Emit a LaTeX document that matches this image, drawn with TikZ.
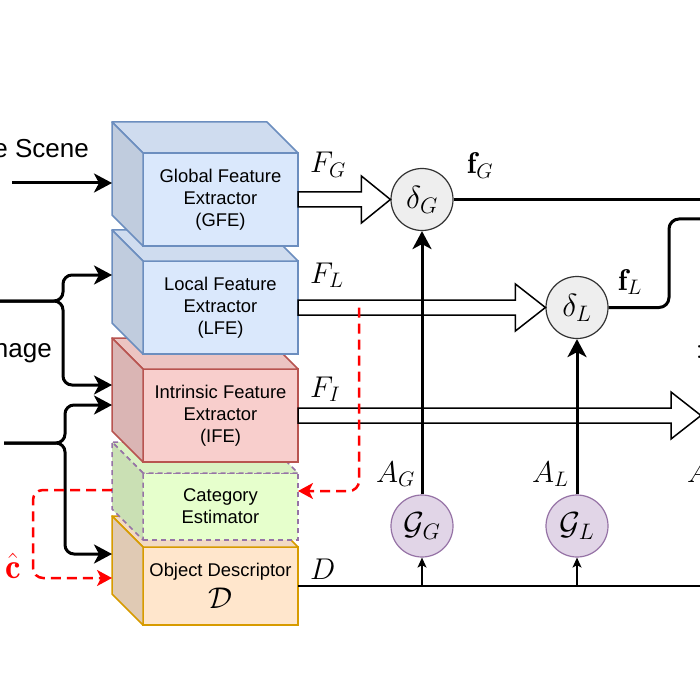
\RequirePackage{fix-cm}
\documentclass[tikz,border=0pt]{standalone}
\usepackage{fontspec}
\newfontfamily\lsans{Liberation Sans}
\usetikzlibrary{arrows.meta,calc}
\definecolor{gfill}{HTML}{DAE8FC}\definecolor{gline}{HTML}{6C8EBF}
\definecolor{rfill}{HTML}{F8CECC}\definecolor{rline}{HTML}{B85450}
\definecolor{cfill}{HTML}{E6FFCC}\definecolor{pline}{HTML}{9673A6}
\definecolor{ofill}{HTML}{FFE6CC}\definecolor{oline}{HTML}{D79B00}
\definecolor{pfill}{HTML}{E1D5E7}
\definecolor{dfill}{HTML}{EEEEEE}\definecolor{dline}{HTML}{333333}
\newcommand{\cubebox}[8]{%
  \node[front, fill=#5, draw=#6, minimum height=#4pt, #7] (#1) at (#2,#3) {#8};
  \path[fill=#5!95!black, draw=#6, line width=1.5pt, line join=round, #7]
    (#1.north west) -- ++(-31,-31) -- ($(#1.north east)+(-31,-31)$) -- (#1.north east) -- cycle;
  \path[fill=#5!88!black, draw=#6, line width=1.5pt, line join=round, #7]
    (#1.north west) -- ++(-31,-31) -- ($(#1.south west)+(-31,-31)$) -- (#1.south west) -- cycle;
}
\begin{document}
\begin{tikzpicture}[x=1pt,y=-1pt,
  sans/.style={font=\lsans\fontsize{18.4}{22}\selectfont},
  front/.style={draw, line width=1.5pt, inner sep=0pt, outer sep=0pt, minimum width=155pt, align=center, sans, anchor=north west},
  mlab/.style={font=\fontsize{30}{34}\selectfont, inner sep=0pt, anchor=base west},
  bigsans/.style={font=\lsans\fontsize{26}{30}\selectfont, inner sep=0pt, anchor=base east},
  fuse/.style={circle, draw=dline, fill=dfill, line width=1.2pt, minimum size=62pt, inner sep=0pt, font=\fontsize{32}{36}\selectfont},
  gen/.style={circle, draw=pline, fill=pfill, line width=1.2pt, minimum size=62pt, inner sep=0pt, font=\fontsize{32}{36}\selectfont},
  thickarr/.style={line width=3pt, -{Stealth[length=18pt,width=19pt,inset=5pt]}},
  thickline/.style={line width=3pt},
  redarr/.style={draw=red, line width=2.5pt, dash pattern=on 10pt off 6pt, rounded corners=10pt, -{Stealth[length=15pt,width=16pt,inset=4pt]}},
  hollowarr/.style={draw, fill=white, line width=1.5pt, line join=miter},
  thinarr/.style={line width=1.5pt, -{Stealth[length=10pt,width=9pt,inset=2.5pt]}},
  cedash/.style={dash pattern=on 5pt off 4pt}
]
\useasboundingbox (0,0) rectangle (700,700);
\fill[white] (0,0) rectangle (700,700);
\clip (0,0) rectangle (700,700);

% cubes, drawn bottom-up
\cubebox{od}{143}{547}{78}{ofill}{oline}{}{Object Descriptor\\[7pt]{\fontsize{30}{30}\selectfont$\mathcal{D}$}}
\cubebox{ce}{143}{473}{67}{cfill}{pline}{cedash}{Category\\Estimator}
\cubebox{ife}{143}{369}{93}{rfill}{rline}{}{Intrinsic Feature\\Extractor\\(IFE)}
\cubebox{lfe}{143}{261}{93}{gfill}{gline}{}{Local Feature\\Extractor\\(LFE)}
\cubebox{gfe}{143}{153}{93}{gfill}{gline}{}{Global Feature\\Extractor\\(GFE)}

% circles
\node[fuse] (dG) at (422,199.5) {$\delta_G$};
\node[fuse] (dL) at (577,307.5) {$\delta_L$};
\node[gen] (gG) at (422,526) {$\mathcal{G}_G$};
\node[gen] (gL) at (577,526) {$\mathcal{G}_L$};

% free ends
\coordinate (iTip) at (701,415.5);
\coordinate (fGend) at (702,199.5);
\coordinate (fLturn) at (669,307.5);
\coordinate (fLend) at (702,219);
\coordinate (dEnd) at (702,586);

% hollow arrows
\draw[hollowarr] ($(gfe.east)+(0,-7.5)$) -- ($(dG.west)+(-29,-7.5)$) -- ($(dG.west)+(-29,-23.5)$) -- (dG.west)
  -- ($(dG.west)+(-29,23.5)$) -- ($(dG.west)+(-29,7.5)$) -- ($(gfe.east)+(0,7.5)$) -- cycle;
\draw[hollowarr] ($(lfe.east)+(0,-7.5)$) -- ($(dL.west)+(-30,-7.5)$) -- ($(dL.west)+(-30,-23.5)$) -- (dL.west)
  -- ($(dL.west)+(-30,23.5)$) -- ($(dL.west)+(-30,7.5)$) -- ($(lfe.east)+(0,7.5)$) -- cycle;
\draw[hollowarr] ($(ife.east)+(0,-7.5)$) -- ($(iTip)+(-30,-7.5)$) -- ($(iTip)+(-30,-23.5)$) -- (iTip)
  -- ($(iTip)+(-30,23.5)$) -- ($(iTip)+(-30,7.5)$) -- ($(ife.east)+(0,7.5)$) -- cycle;

% outputs of fusion
\draw[thickline] (dG.east) -- (fGend);
\draw[thickline, rounded corners=10pt] (dL.east) -- (fLturn) |- (fLend);

% attention arrows
\draw[thickarr] (gG) -- (dG);
\draw[thickarr] (gL) -- (dL);

% descriptor line
\draw[line width=1.5pt] (od.east) -- (dEnd);
\coordinate (bG) at (gG.south |- od.east);
\coordinate (bL) at (gL.south |- od.east);
\draw[thinarr] (bG) -- (gG.south);
\draw[thinarr] (bL) -- (gL.south);

% inputs
\coordinate (inS) at (12,183);
\coordinate (gfeIn) at (112,183);
\draw[thickarr] (inS) -- (gfeIn);
\coordinate (inI) at (-3,301);
\coordinate (lfeIn) at (112,275);
\coordinate (ifeInA) at (112,385);
\draw[thickarr, rounded corners=9pt] (inI) -| (63,275) -- (lfeIn);
\draw[thickarr, rounded corners=9pt] (inI) -| (63,385) -- (ifeInA);
\coordinate (inB) at (4,443);
\coordinate (ifeInB) at (112,405);
\coordinate (odIn) at (112,554);
\draw[thickarr, rounded corners=9pt] (inB) -| (65,405) -- (ifeInB);
\draw[thickarr, rounded corners=9pt] (inB) -| (65,554) -- (odIn);

\node[bigsans] (tScene) at (89,158) {e Scene};
\node[bigsans] (tImage) at (52,357) {nage};

% red feedback
\coordinate (rS) at (359,307.5);
\coordinate (ceIn) at (298,491);
\draw[redarr] (rS) |- (ceIn);
\coordinate (ceOut) at (112,490);
\coordinate (odIn2) at (112,578);
\draw[redarr] (ceOut) -- (33,490) |- (odIn2);
\node[font=\fontsize{35}{40}\selectfont, text=red, inner sep=0pt] (chat) at (13,566) {$\hat{\mathbf{c}}$};

% labels
\node[mlab] (lFG) at (310,173) {$F_G$};
\node[mlab] (lFL) at (310,283) {$F_L$};
\node[mlab] (lFI) at (310,397) {$F_I$};
\node[mlab] (lD) at (310,579) {$D$};
\node[mlab] (lfG) at (467,174) {$\mathbf{f}_G$};
\node[mlab] (lfL) at (618,290) {$\mathbf{f}_L$};
\node[mlab] (lAG) at (376,482) {$A_G$};
\node[mlab] (lAL) at (532,482) {$A_L$};
\node[mlab] (lAI) at (687,482) {$A_I$};
\node[mlab] (lcolon) at (695.5,358.5) {$:$};
\end{tikzpicture}
\end{document}
